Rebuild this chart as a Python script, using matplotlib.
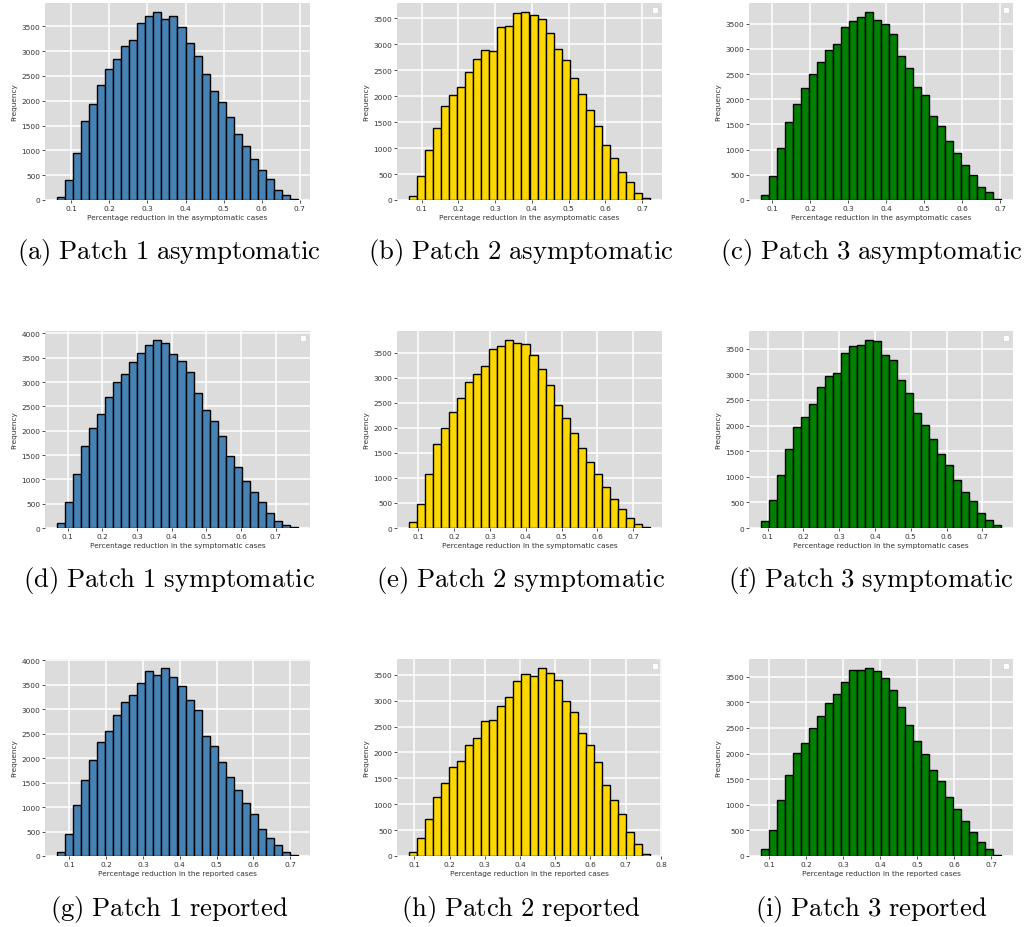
import numpy as np
import matplotlib
matplotlib.use("Agg")
import matplotlib.pyplot as plt

plt.style.use('ggplot')
plt.rcParams['mathtext.fontset'] = 'cm'

# bin ranges (lowest / highest value), 30 bins each
ranges = {
    'a': (0.0623, 0.6956), 'b': (0.0655, 0.7218), 'c': (0.0712, 0.7017),
    'd': (0.0693, 0.7642), 'e': (0.0740, 0.7465), 'f': (0.0815, 0.7519),
    'g': (0.0665, 0.7208), 'h': (0.0849, 0.7688), 'i': (0.0776, 0.7260),
}

# counts per bin
counts_a = [70, 400, 950, 1600, 1940, 2310, 2645, 2845, 3100, 3230, 3575, 3705, 3780, 3645, 3715,
            3480, 3160, 2895, 2530, 2205, 1965, 1675, 1335, 1090, 830, 610, 415, 210, 95, 27]
counts_b = [80, 460, 960, 1395, 1800, 2030, 2178, 2470, 2712, 2893, 2868, 3328, 3348, 3598, 3611,
            3553, 3483, 3214, 2906, 2695, 2350, 2049, 1735, 1428, 1056, 807, 544, 346, 128, 32]
counts_c = [100, 483, 1039, 1555, 1906, 2230, 2502, 2733, 2972, 3104, 3428, 3554, 3640, 3726, 3574,
            3501, 3289, 2852, 2614, 2243, 2085, 1661, 1469, 1171, 940, 695, 503, 265, 159, 26]
counts_d = [100, 539, 1106, 1679, 2061, 2334, 2683, 3010, 3167, 3406, 3604, 3768, 3857, 3809, 3577,
            3427, 3201, 2785, 2416, 2205, 1884, 1474, 1263, 976, 730, 526, 300, 143, 61, 14]
counts_e = [110, 485, 1084, 1683, 1999, 2309, 2591, 2921, 3083, 3231, 3574, 3634, 3749, 3695, 3675,
            3466, 3184, 2861, 2450, 2208, 1905, 1595, 1319, 1077, 828, 586, 370, 209, 87, 13]
counts_f = [135, 544, 1030, 1542, 1977, 2158, 2430, 2754, 2962, 3033, 3415, 3558, 3571, 3662, 3649,
            3377, 3279, 2897, 2638, 2249, 2009, 1743, 1452, 1238, 933, 706, 518, 298, 156, 52]
counts_g = [80, 451, 1032, 1559, 1962, 2325, 2550, 2872, 3152, 3282, 3528, 3770, 3685, 3830, 3650,
            3467, 3179, 2974, 2448, 2236, 1915, 1621, 1347, 1087, 862, 554, 369, 226, 89, 21]
counts_h = [75, 341, 721, 1145, 1415, 1718, 1827, 2149, 2278, 2612, 2619, 2895, 3069, 3378, 3506,
            3481, 3622, 3526, 3404, 2998, 2786, 2381, 2149, 1808, 1364, 1074, 804, 463, 225, 45]
counts_i = [130, 506, 1084, 1578, 2013, 2201, 2494, 2734, 2994, 3156, 3403, 3623, 3636, 3662, 3610,
            3474, 3234, 2903, 2565, 2240, 1987, 1675, 1461, 1149, 916, 675, 461, 273, 136, 26]

counts = {'a': counts_a, 'b': counts_b, 'c': counts_c, 'd': counts_d, 'e': counts_e,
          'f': counts_f, 'g': counts_g, 'h': counts_h, 'i': counts_i}

patches = ['Patch 1', 'Patch 2', 'Patch 3']
cases = ['asymptomatic', 'symptomatic', 'reported']
colors = ['steelblue', 'gold', 'green']
letters = [['a', 'b', 'c'], ['d', 'e', 'f'], ['g', 'h', 'i']]
with_legend = ['b', 'c', 'd', 'f', 'h', 'i']

W, H = 1028, 928
fig = plt.figure(figsize=(W / 100, H / 100), dpi=100)

# axes boxes in pixels: (left, right) per column, (top, bottom) per row
col_x = [(45, 310), (397, 662), (749, 1013)]
row_y = [(4, 201), (332, 529), (660, 857)]
cap_x = [169, 521, 871]
cap_y = [253, 581, 910]

for r in range(3):
    for c in range(3):
        key = letters[r][c]
        x0, x1 = col_x[c]
        y0, y1 = row_y[r]
        ax = fig.add_axes([x0 / W, 1 - y1 / H, (x1 - x0) / W, (y1 - y0) / H])
        ax.set_facecolor('#dcdcdc')
        lo, hi = ranges[key]
        edges = np.linspace(lo, hi, len(counts[key]) + 1)
        ax.hist(edges[:-1], bins=edges, weights=counts[key], color=colors[c],
                edgecolor='black', linewidth=1.0)
        ax.grid(True, color='white', linewidth=1.1)
        ax.set_axisbelow(True)
        ax.tick_params(labelsize=5.3, colors='#333333', length=2, width=0.6, pad=1.5)
        ax.set_xlabel('Percentage reduction in the %s cases' % cases[r], fontsize=5.3,
                      color='#333333', labelpad=2)
        ax.set_ylabel('Frequency', fontsize=5.3, color='#333333', labelpad=3)
        for s in ax.spines.values():
            s.set_visible(False)
        if key in with_legend:
            leg = ax.legend(handles=[], loc='upper right', fontsize=5, borderpad=0.45,
                            borderaxespad=0.6)
            leg.get_frame().set_facecolor('white')
            leg.get_frame().set_edgecolor('#d0d0d0')
            leg.get_frame().set_alpha(1)
        caption = r'$\mathrm{(%s)\ %s\ %s}$' % (key, patches[c].replace(' ', r'\ '), cases[r])
        fig.text(cap_x[c] / W, 1 - cap_y[r] / H, caption, fontsize=19.2,
                 ha='center', va='center', color='black')

fig.savefig('out.png', dpi=100, facecolor='white')
